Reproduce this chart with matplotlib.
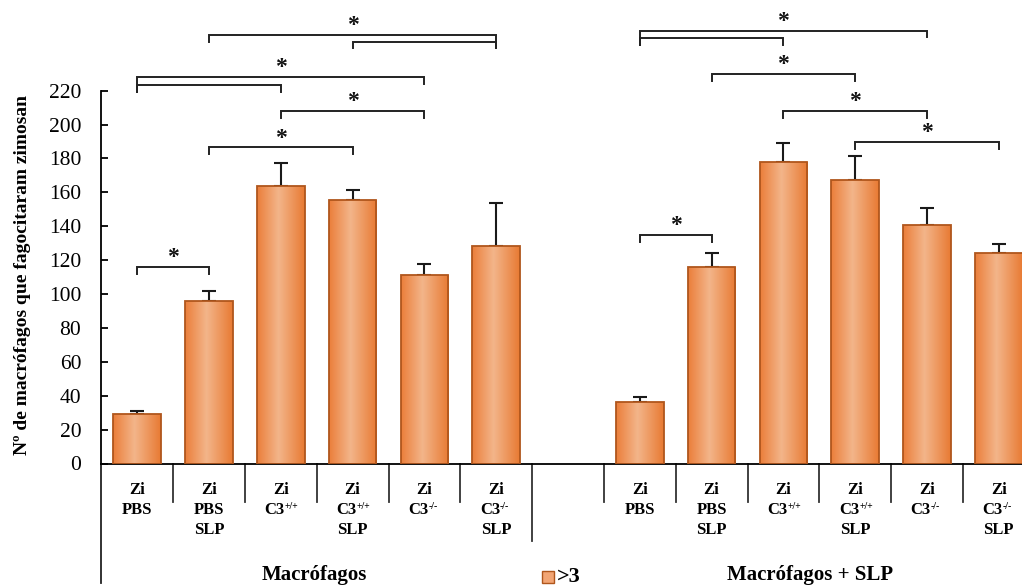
import numpy as np
import matplotlib
matplotlib.use("Agg")
import matplotlib.pyplot as plt
from matplotlib.colors import LinearSegmentedColormap
from matplotlib.patches import Rectangle
from matplotlib.transforms import blended_transform_factory, offset_copy

plt.rcParams['font.family'] = ['Liberation Serif', 'DejaVu Serif']

# ---- data -------------------------------------------------------------
# each category label: list of lines, a line is (text, superscript)
categories = [
    [("Zi", ""), ("PBS", "")],
    [("Zi", ""), ("PBS", ""), ("SLP", "")],
    [("Zi", ""), ("C3", "+/+")],
    [("Zi", ""), ("C3", "+/+"), ("SLP", "")],
    [("Zi", ""), ("C3", "-/-")],
    [("Zi", ""), ("C3", "-/-"), ("SLP", "")],
]
groups = ["Macrófagos", "Macrófagos + SLP"]

mean_macro = [29, 96, 163.5, 155.5, 111, 128.5]
err_macro = [2, 6, 14, 6, 7, 25]
mean_slp = [36, 116, 178, 167.5, 141, 124]
err_slp = [3.5, 8, 11, 14, 10, 5.5]

# significance brackets: (category i, category j, height, star)
sig_macro = [(0, 1, 116, True), (1, 3, 186.5, True), (2, 4, 208, True),
             (0, 2, 223.5, False), (0, 4, 228, True), (3, 5, 249, False),
             (1, 5, 253, True)]
sig_slp = [(0, 1, 135, True), (3, 5, 189.5, True), (2, 4, 208, True),
           (1, 3, 230, True), (0, 2, 251, False), (0, 4, 255.5, True)]

yticks = list(range(0, 221, 20))
ylabel = "Nº de macrófagos que fagocitaram zimosan"
legend_label = ">3"

# ---- layout -----------------------------------------------------------
W, H = 1022, 585
fig = plt.figure(figsize=(W / 100, H / 100), dpi=100)
ax = fig.add_axes([101.3 / W, 121.5 / H, 1 - 101.3 / W, 463.5 / H])

def row(r):
    """figure fraction for a pixel row counted from the top"""
    return 1 - r / H

n = len(categories)
pos_macro = np.arange(n)
pos_slp = np.arange(n) + n + 1
positions = np.concatenate([pos_macro, pos_slp])
means = np.array(mean_macro + mean_slp, dtype=float)
errs = np.array(err_macro + err_slp, dtype=float)

xlim = (-0.5, 12.323)
ylim = (0, 273.5)

# ---- bars with horizontal gradient -------------------------------------
cmap = LinearSegmentedColormap.from_list(
    "bar", [(0.0, "#EB7E3A"), (0.45, "#F3B58A"), (1.0, "#E87A33")])
grad = np.linspace(0, 1, 256).reshape(1, -1)
bar_w = 0.664
bars = ax.bar(positions, means, width=bar_w, facecolor="none",
              edgecolor="#B0561C", linewidth=1.3, zorder=3)
for b in bars:
    x0, y0 = b.get_x(), b.get_y()
    im = ax.imshow(grad, extent=[x0, x0 + b.get_width(), y0, y0 + b.get_height()],
                   cmap=cmap, aspect="auto", zorder=2.5, interpolation="bilinear")
    im.set_clip_path(b)

ax.errorbar(positions, means, yerr=[np.zeros_like(errs), errs], fmt="none",
            ecolor="#1a1a1a", elinewidth=1.5, capsize=4.7, capthick=1.5, zorder=2)

# ---- significance brackets --------------------------------------------
drop = 4.1
def draw_brackets(sigs, offset):
    for (i, j, h, star) in sigs:
        xa, xb = i + offset, j + offset
        ends = []
        for end in (i, j):
            bottom = h - drop
            for (k, l, h2, _) in sigs:
                if h2 < h and h - h2 < 10 and end in (k, l):
                    bottom = min(bottom, h2 - drop)
            ends.append(bottom)
        ax.plot([xa, xa, xb, xb], [ends[0], h, h, ends[1]], color="#222222",
                lw=1.4, solid_joinstyle="miter", clip_on=False, zorder=5)
        if star:
            ax.text((xa + xb) / 2, h + 2.3, "*", ha="center", va="baseline",
                    fontsize=17, fontweight="bold", color="#111111", zorder=5)

draw_brackets(sig_macro, pos_macro[0])
draw_brackets(sig_slp, pos_slp[0])

# ---- axes --------------------------------------------------------------
ax.set_xlim(*xlim)
ax.set_ylim(*ylim)
for s in ("top", "right"):
    ax.spines[s].set_visible(False)
ax.spines["left"].set_bounds(0, 220)
ax.spines["left"].set_linewidth(1.3)
ax.spines["bottom"].set_linewidth(1.3)
ax.set_yticks(yticks)
ax.tick_params(axis="y", direction="in", length=5, width=1.3, pad=14.4,
               labelsize=15.5)
ax.set_xticks([])

# category table under the axis
tb = blended_transform_factory(ax.transData, fig.transFigure)
ax.plot([-0.5, -0.5], [row(463.5), row(583)], color="#222222", lw=1.3,
        transform=tb, clip_on=False)
for xb in np.arange(0.5, 12.5, 1.0):
    bottom = 541 if xb == n - 0.5 else 502
    ax.plot([xb, xb], [row(463.5), row(bottom)], color="#333333", lw=1.3,
            transform=tb, clip_on=False)

baselines = [494.5, 514, 533.5]
for p_set in (pos_macro, pos_slp):
    for p, lines in zip(p_set, categories):
        for (txt, sup), base in zip(lines, baselines):
            if sup:
                tr = offset_copy(tb, fig=fig, x=-4.5, y=0, units="points")
                t = ax.text(p, row(base), txt, transform=tr, ha="center",
                            va="baseline", fontsize=12, fontweight="bold")
                ax.annotate(sup, xy=(1.0, 1.0), xycoords=t, ha="left",
                            va="top", fontsize=7, fontweight="bold")
            else:
                ax.text(p, row(base), txt, transform=tb, ha="center",
                        va="baseline", fontsize=12, fontweight="bold")

fig.text(314 / W, row(575), groups[0], ha="center", va="center",
         fontsize=15, fontweight="bold")
fig.text(810 / W, row(575), groups[1], ha="center", va="center",
         fontsize=15, fontweight="bold")

fig.text(23 / W, row(275), ylabel, rotation=90, ha="center", va="center",
         fontsize=14, fontweight="bold")

# legend
fig.add_artist(Rectangle((542 / W, row(583)), 12 / W, 12.3 / H,
                         transform=fig.transFigure, facecolor="#F2A574",
                         edgecolor="#B0561C", lw=1.0))
fig.text(557 / W, row(577), legend_label, ha="left", va="center",
         fontsize=16, fontweight="bold")

fig.savefig("out.png", dpi=100)
